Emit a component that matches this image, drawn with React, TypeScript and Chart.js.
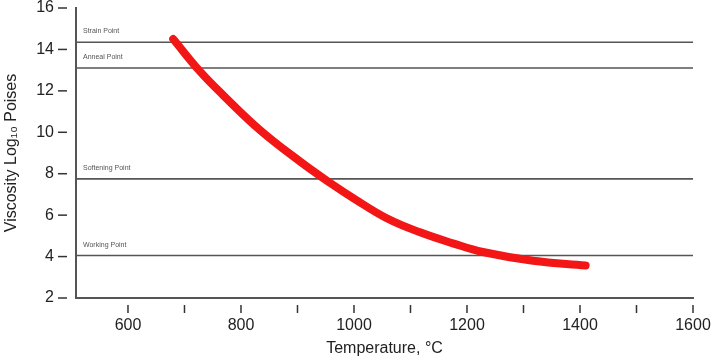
import React, { useEffect, useRef } from "react";
import { Chart, registerables } from "chart.js";

Chart.register(...registerables);

const curveTemps = [680, 727, 770, 834, 904, 958, 1000, 1058, 1117, 1175, 1228, 1317, 1410];
const curveViscosity = [14.5, 12.95, 11.75, 10.1, 8.6, 7.55, 6.8, 5.85, 5.17, 4.64, 4.22, 3.8, 3.57];

const refNames = ["Strain Point", "Anneal Point", "Softening Point", "Working Point"];
const refValues = [14.35, 13.1, 7.75, 4.05];

const xTicks = [600, 700, 800, 900, 1000, 1100, 1200, 1300, 1400, 1500, 1600];
const yTicks = [2, 4, 6, 8, 10, 12, 14, 16];

const FONT = "'Liberation Sans', Arial, Helvetica, sans-serif";

export default function App() {
  const ref = useRef<HTMLCanvasElement | null>(null);

  useEffect(() => {
    if (!ref.current) return;
    const xMin = 508;
    const xMax = 1600;

    const refDatasets = refValues.map((v, i) => ({
      label: refNames[i],
      data: [
        { x: xMin, y: v },
        { x: xMax, y: v },
      ],
      borderColor: "#555555",
      borderWidth: 1.6,
      pointRadius: 0,
      tension: 0,
      order: 2,
    }));

    const decor = {
      id: "decor",
      afterDraw(chart: any) {
        const ctx = chart.ctx;
        const xs = chart.scales.x;
        const ys = chart.scales.y;
        const area = chart.chartArea;
        ctx.save();
        ctx.strokeStyle = "#333";
        ctx.lineWidth = 1.5;
        xTicks.forEach((t) => {
          const px = xs.getPixelForValue(t);
          ctx.beginPath();
          ctx.moveTo(px, area.bottom + 7);
          ctx.lineTo(px, area.bottom + 15);
          ctx.stroke();
        });
        yTicks.forEach((t) => {
          const py = ys.getPixelForValue(t);
          ctx.beginPath();
          ctx.moveTo(area.left - 18, py);
          ctx.lineTo(area.left - 9, py);
          ctx.stroke();
        });
        ctx.fillStyle = "#555";
        ctx.font = `7px ${FONT}`;
        ctx.textBaseline = "alphabetic";
        ctx.textAlign = "left";
        refValues.forEach((v, i) => {
          const py = ys.getPixelForValue(v);
          ctx.fillText(refNames[i], area.left + 7, py - 9);
        });
        ctx.restore();
      },
    };

    const chart = new Chart(ref.current, {
      type: "line",
      data: {
        datasets: [
          {
            label: "Viscosity",
            data: curveTemps.map((t, i) => ({ x: t, y: curveViscosity[i] })),
            borderColor: "#f21616",
            borderWidth: 8,
            pointRadius: 0,
            tension: 0.4,
            borderCapStyle: "round",
            order: 1,
          },
          ...refDatasets,
        ],
      },
      options: {
        animation: false,
        responsive: false,
        maintainAspectRatio: false,
        layout: { padding: { left: 0, right: 20, top: 8, bottom: 0 } },
        plugins: {
          legend: { display: false },
          tooltip: { enabled: false },
        },
        scales: {
          x: {
            type: "linear",
            min: xMin,
            max: xMax,
            afterBuildTicks: (scale: any) => {
              scale.ticks = xTicks.map((v) => ({ value: v }));
            },
            afterFit: (scale: any) => {
              scale.height = 62;
              scale.paddingLeft = 0;
              scale.paddingRight = 0;
            },
            grid: { display: false, drawTicks: false },
            border: { display: true, color: "#555", width: 2 },
            ticks: {
              padding: 18,
              maxRotation: 0,
              autoSkip: false,
              color: "#222",
              font: { family: FONT, size: 16 },
              callback: (v: any) => (Number(v) % 200 === 0 ? String(v) : ""),
            },
            title: {
              display: true,
              text: "Temperature, °C",
              color: "#222",
              font: { family: FONT, size: 16 },
              padding: { top: 0, bottom: 2 },
            },
          },
          y: {
            type: "linear",
            min: 2,
            max: 16,
            afterBuildTicks: (scale: any) => {
              scale.ticks = yTicks.map((v) => ({ value: v }));
            },
            afterFit: (scale: any) => {
              scale.width = 76;
              scale.paddingTop = 0;
              scale.paddingBottom = 0;
            },
            grid: { display: false, drawTicks: false },
            border: { display: true, color: "#555", width: 2 },
            ticks: {
              padding: 22,
              color: "#222",
              font: { family: FONT, size: 16 },
            },
            title: {
              display: true,
              text: "Viscosity Log₁₀ Poises",
              color: "#222",
              font: { family: FONT, size: 16 },
              padding: { top: 2, bottom: 0 },
            },
          },
        },
      },
      plugins: [decor],
    } as any);
    return () => chart.destroy();
  }, []);

  return (
    <div style={{ position: "fixed", left: 0, top: 0, width: 713, height: 360, background: "#fff" }}>
      <canvas ref={ref} width={713} height={360} style={{ width: 713, height: 360, display: "block" }} />
    </div>
  );
}
